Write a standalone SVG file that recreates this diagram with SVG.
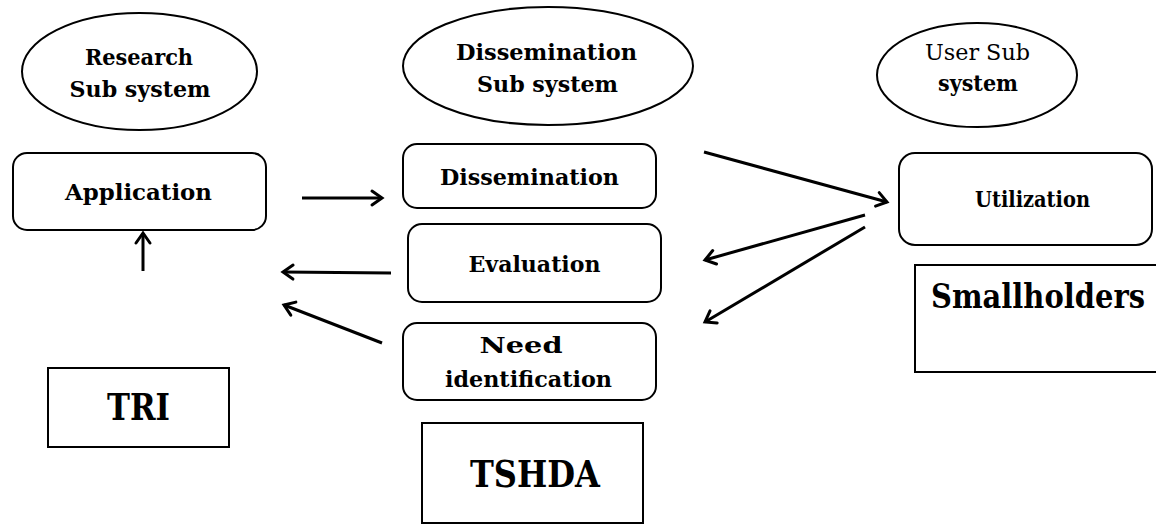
<svg xmlns="http://www.w3.org/2000/svg" width="1156" height="527" viewBox="0 0 1156 527">
<style>
.shape{fill:#fff;stroke:#000;stroke-width:2}
.t{font-family:"DejaVu Serif","Liberation Serif",serif;font-weight:bold;fill:#000;text-anchor:middle}
.s{font-size:23px}
.b{font-size:37px}
.r{font-weight:normal}
.c{fill:none;stroke:#000;stroke-width:3}
</style>
<defs>
<marker id="ah" markerUnits="userSpaceOnUse" markerWidth="16" markerHeight="18" refX="12" refY="9" orient="auto" overflow="visible">
<path d="M2,2 L12,9 L2,16" fill="none" stroke="#000" stroke-width="3" stroke-linecap="round" stroke-linejoin="miter"/>
</marker>
</defs>
<rect width="1156" height="527" fill="#fff"/>
<g id="research-subsystem">
<ellipse class="shape" cx="139.5" cy="71.5" rx="117.5" ry="58.5"/>
<text class="t s" x="139" y="65" textLength="108" lengthAdjust="spacingAndGlyphs">Research</text>
<text class="t s" x="140" y="97" textLength="141" lengthAdjust="spacingAndGlyphs">Sub system</text>
</g>
<g id="dissemination-subsystem">
<ellipse class="shape" cx="548" cy="66" rx="145" ry="59"/>
<text class="t s" x="546.5" y="60" textLength="181" lengthAdjust="spacingAndGlyphs">Dissemination</text>
<text class="t s" x="547.5" y="92" textLength="141" lengthAdjust="spacingAndGlyphs">Sub system</text>
</g>
<g id="user-subsystem">
<ellipse class="shape" cx="977" cy="75" rx="100" ry="52"/>
<text class="t s r" x="977.5" y="60" textLength="105" lengthAdjust="spacingAndGlyphs">User Sub</text>
<text class="t s" x="978" y="91" textLength="80" lengthAdjust="spacingAndGlyphs">system</text>
</g>
<g id="application">
<rect class="shape" x="13" y="153" width="253" height="77" rx="14"/>
<text class="t s" x="138.5" y="200" textLength="147" lengthAdjust="spacingAndGlyphs">Application</text>
</g>
<g id="dissemination">
<rect class="shape" x="403" y="144" width="253" height="64" rx="14"/>
<text class="t s" x="529.5" y="185" textLength="179" lengthAdjust="spacingAndGlyphs">Dissemination</text>
</g>
<g id="evaluation">
<rect class="shape" x="408" y="224" width="253" height="78" rx="14"/>
<text class="t s" x="534.5" y="272" textLength="132" lengthAdjust="spacingAndGlyphs">Evaluation</text>
</g>
<g id="need-identification">
<rect class="shape" x="403" y="323" width="253" height="77" rx="14"/>
<text class="t s" x="521" y="353" textLength="83" lengthAdjust="spacingAndGlyphs">Need</text>
<text class="t s" x="528.5" y="387" textLength="167" lengthAdjust="spacingAndGlyphs">identification</text>
</g>
<g id="utilization">
<rect class="shape" x="899" y="153" width="253" height="92" rx="16"/>
<text class="t s" x="1032.5" y="207" textLength="115" lengthAdjust="spacingAndGlyphs">Utilization</text>
</g>
<g id="tri">
<rect class="shape" x="48" y="368" width="181" height="79"/>
<text class="t b" x="138.5" y="420" textLength="63" lengthAdjust="spacingAndGlyphs">TRI</text>
</g>
<g id="tshda">
<rect class="shape" x="422" y="423" width="221" height="100"/>
<text class="t b" x="535" y="487" textLength="130" lengthAdjust="spacingAndGlyphs">TSHDA</text>
</g>
<g id="smallholders">
<rect class="shape" x="915" y="265" width="250" height="107"/>
<text class="t" style="font-size:34px" x="1038" y="308" textLength="214" lengthAdjust="spacingAndGlyphs">Smallholders</text>
</g>
<g id="connectors">
<path class="c" d="M302,198 L382,198" marker-end="url(#ah)"/>
<path class="c" d="M143,271 L143,233" marker-end="url(#ah)"/>
<path class="c" d="M391,273 L283,272" marker-end="url(#ah)"/>
<path class="c" d="M382,343 L284,305" marker-end="url(#ah)"/>
<path class="c" d="M704,152 L887,202" marker-end="url(#ah)"/>
<path class="c" d="M865,215 L705,260" marker-end="url(#ah)"/>
<path class="c" d="M865,227 L705,322" marker-end="url(#ah)"/>
</g>
</svg>
